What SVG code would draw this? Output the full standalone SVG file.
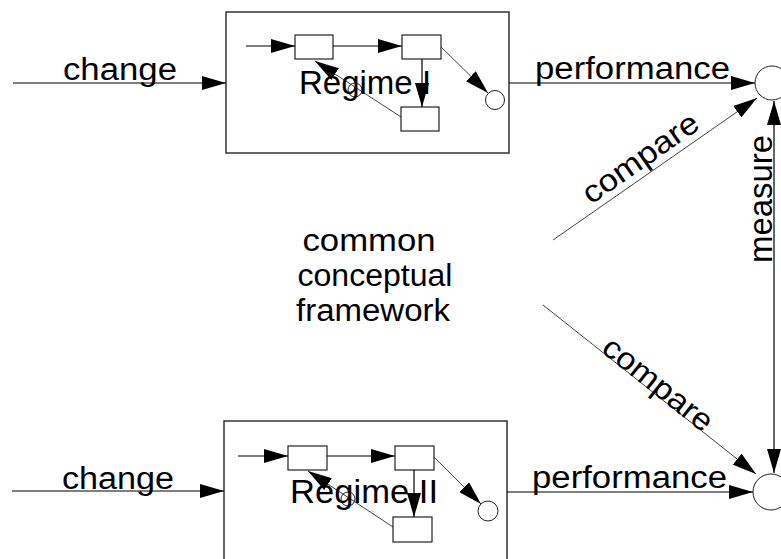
<svg xmlns="http://www.w3.org/2000/svg" width="781" height="559" viewBox="0 0 781 559">
<style>
.t{font-family:"Liberation Sans",Arial,sans-serif;fill:#000}
.box{fill:#fff;stroke:#333;stroke-width:1.5}
.r{fill:#fff;stroke:#222;stroke-width:1.2}
.c{fill:#fff;stroke:#222;stroke-width:1}
.l{fill:none;stroke:#000;stroke-width:1.2}
.d{fill:none;stroke:#111;stroke-width:0.8}
</style>
<defs>
<marker id="a" markerUnits="userSpaceOnUse" markerWidth="24" markerHeight="14" refX="24" refY="7" orient="auto-start-reverse" viewBox="0 0 24 14">
<path d="M0,0 L24,7 L0,14 z" fill="#000"/>
</marker>
</defs>
<rect width="781" height="559" fill="#fff"/>

<g id="regime1">
<rect class="box" x="226" y="12" width="283" height="141"/>
<rect class="r" x="295" y="35" width="38" height="24"/>
<rect class="r" x="402" y="35" width="39" height="24"/>
<rect class="r" x="401" y="107" width="38" height="24"/>
<circle class="c" cx="495" cy="100" r="9.5"/>
<circle class="c" cx="355" cy="90" r="7"/>
<line class="l" x1="246" y1="46" x2="295" y2="46" marker-end="url(#a)"/>
<line class="l" x1="333" y1="46" x2="402" y2="46" marker-end="url(#a)"/>
<line class="l" x1="422" y1="59" x2="422" y2="107" marker-end="url(#a)"/>
<line class="d" x1="441" y1="47" x2="488" y2="93" marker-end="url(#a)"/>
<line class="d" x1="401" y1="117" x2="315" y2="61" marker-end="url(#a)"/>
<text class="t" x="299" y="94" font-size="33">Regime I</text>
</g>

<g id="regime2">
<rect class="box" x="224" y="421" width="283" height="160"/>
<rect class="r" x="288" y="446" width="39" height="24"/>
<rect class="r" x="395" y="446" width="39" height="24"/>
<rect class="r" x="393" y="517" width="39" height="25"/>
<circle class="c" cx="488" cy="511" r="10"/>
<circle class="c" cx="348" cy="499" r="7"/>
<line class="l" x1="238" y1="456" x2="288" y2="456" marker-end="url(#a)"/>
<line class="l" x1="327" y1="456" x2="395" y2="456" marker-end="url(#a)"/>
<line class="l" x1="414" y1="470" x2="414" y2="517" marker-end="url(#a)"/>
<line class="d" x1="434" y1="457" x2="481" y2="504" marker-end="url(#a)"/>
<line class="d" x1="393" y1="527" x2="308" y2="471" marker-end="url(#a)"/>
<text class="t" x="290" y="503" font-size="33" textLength="148" lengthAdjust="spacingAndGlyphs">Regime II</text>
</g>

<g id="perf1"><circle class="c" cx="772" cy="83" r="17"/></g>
<g id="perf2"><circle class="c" cx="771" cy="492" r="18"/></g>

<g id="framework">
<text class="t" font-size="31" text-anchor="middle" x="369" y="251" textLength="133" lengthAdjust="spacingAndGlyphs">common</text>
<text class="t" font-size="31" text-anchor="middle" x="375" y="286" textLength="155" lengthAdjust="spacingAndGlyphs">conceptual</text>
<text class="t" font-size="31" text-anchor="middle" x="373" y="321" textLength="154" lengthAdjust="spacingAndGlyphs">framework</text>
</g>

<g id="connectors">
<line class="l" x1="13" y1="83" x2="226" y2="83" marker-end="url(#a)"/>
<text class="t" font-size="31" x="63" y="80" textLength="114" lengthAdjust="spacingAndGlyphs">change</text>
<line class="l" x1="12" y1="491" x2="224" y2="491" marker-end="url(#a)"/>
<text class="t" font-size="31" x="62" y="489" textLength="112" lengthAdjust="spacingAndGlyphs">change</text>

<line class="l" x1="509" y1="83" x2="755" y2="83" marker-end="url(#a)"/>
<text class="t" font-size="31" x="535" y="79" textLength="195" lengthAdjust="spacingAndGlyphs">performance</text>
<line class="l" x1="507" y1="492" x2="753" y2="492" marker-end="url(#a)"/>
<text class="t" font-size="31" x="532" y="488" textLength="195" lengthAdjust="spacingAndGlyphs">performance</text>

<line class="d" x1="553" y1="240" x2="757" y2="98" marker-end="url(#a)"/>
<text class="t" font-size="31" transform="translate(591,205) rotate(-35)" textLength="135" lengthAdjust="spacingAndGlyphs">compare</text>
<line class="d" x1="543" y1="305" x2="756" y2="474" marker-end="url(#a)"/>
<text class="t" font-size="31" transform="translate(600,351) rotate(38.5)" textLength="132" lengthAdjust="spacingAndGlyphs">compare</text>

<line class="l" x1="774" y1="101" x2="774" y2="473" marker-start="url(#a)" marker-end="url(#a)"/>
<text class="t" font-size="33" transform="translate(772,263) rotate(-90)" textLength="128" lengthAdjust="spacingAndGlyphs">measure</text>
</g>
</svg>
